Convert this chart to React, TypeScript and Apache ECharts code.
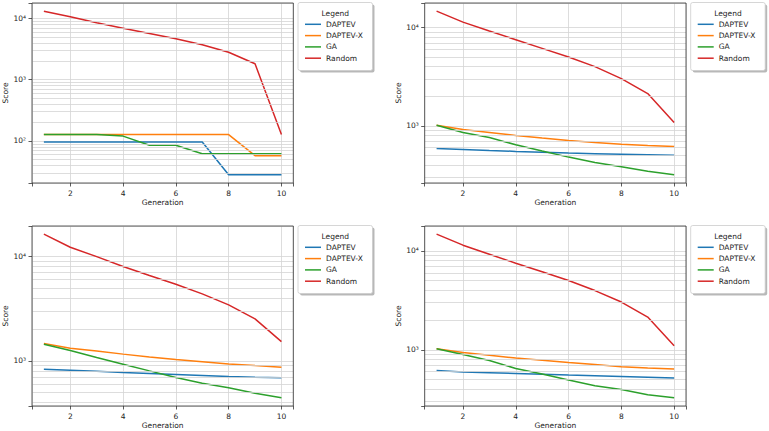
import React, { useEffect, useRef } from 'react';
import * as echarts from 'echarts';

const GENERATIONS = [1, 2, 3, 4, 5, 6, 7, 8, 9, 10];
const SERIES_NAMES = ['DAPTEV', 'DAPTEV-X', 'GA', 'Random'];
const COLORS = ['#1f77b4', '#ff7f0e', '#2ca02c', '#d62728'];
const X_TICKS = [2, 4, 6, 8, 10];
const MINOR_MULTIPLIERS = [2, 3, 4, 5, 6, 7, 8, 9];
const LEGEND_TITLE = 'Legend';
const X_NAME = 'Generation';
const Y_NAME = 'Score';

// Panel 1 (top-left)
const P1_DAPTEV = [96, 96, 96, 96, 96, 96, 96, 28, 28, 28];
const P1_DAPTEVX = [127, 127, 127, 127, 127, 127, 127, 127, 57.5, 57.5];
const P1_GA = [127, 127, 127, 120, 85, 85, 62, 62, 62, 62];
const P1_RANDOM = [13150, 10650, 8500, 6950, 5690, 4650, 3720, 2810, 1820, 127];

// Panel 2 (top-right)
const P2_DAPTEV = [588, 574, 560, 548, 537, 526, 518, 511, 505, 499];
const P2_DAPTEVX = [1010, 917, 855, 796, 750, 708, 675, 646, 630, 616];
const P2_GA = [1010, 855, 760, 640, 552, 479, 423, 382, 343, 316];
const P2_RANDOM = [14750, 11400, 9250, 7550, 6160, 5020, 4010, 3030, 2130, 1080];

// Panel 3 (bottom-left)
const P3_DAPTEV = [832, 813, 793, 773, 756, 739, 722, 706, 696, 687];
const P3_DAPTEVX = [1465, 1324, 1240, 1160, 1090, 1029, 980, 935, 900, 870];
const P3_GA = [1445, 1256, 1076, 929, 801, 692, 611, 551, 490, 442];
const P3_RANDOM = [16400, 12300, 10000, 8020, 6580, 5430, 4390, 3440, 2530, 1530];

// Panel 4 (bottom-right)
const P4_DAPTEV = [618, 595, 586, 577, 566, 555, 546, 538, 528, 518];
const P4_DAPTEVX = [1025, 940, 880, 825, 785, 745, 710, 673, 655, 638];
const P4_GA = [1025, 898, 780, 648, 568, 494, 433, 397, 351, 327];
const P4_RANDOM = [14750, 11420, 9250, 7510, 6140, 5010, 3970, 3040, 2140, 1100];

const PANEL_DATA = [
  [P1_DAPTEV, P1_DAPTEVX, P1_GA, P1_RANDOM],
  [P2_DAPTEV, P2_DAPTEVX, P2_GA, P2_RANDOM],
  [P3_DAPTEV, P3_DAPTEVX, P3_GA, P3_RANDOM],
  [P4_DAPTEV, P4_DAPTEVX, P4_GA, P4_RANDOM],
];

const LAYOUT = [
  { left: 32, top: 3 },
  { left: 424.7, top: 3 },
  { left: 32, top: 226 },
  { left: 424.7, top: 226 },
];
const PLOT_W = 261.3;
const PLOT_H = 180;
const FONT = 'DejaVu Sans';
const FS = 7.5;
const TEXT_COLOR = '#222';
const GRID_COLOR = '#d4d4d4';

const SUP: Record<string, string> = {
  '0': '⁰', '1': '¹', '2': '²', '3': '³', '4': '⁴', '5': '⁵', '6': '⁶', '7': '⁷', '8': '⁸', '9': '⁹', '-': '⁻',
};
const sup = (n: number) => String(n).split('').map((c) => SUP[c] || c).join('');

function buildOption() {
  const grids: any[] = [];
  const xAxes: any[] = [];
  const yAxes: any[] = [];
  const series: any[] = [];
  const legends: any[] = [];
  const graphics: any[] = [];

  const xMin = Math.min(...GENERATIONS);
  const xMax = Math.max(...GENERATIONS);
  const xPad = 0.05 * (xMax - xMin);

  PANEL_DATA.forEach((panel, i) => {
    const { left, top } = LAYOUT[i];
    grids.push({ left, top, width: PLOT_W, height: PLOT_H, containLabel: false });

    const all = panel.flat();
    const lo = Math.log10(Math.min(...all));
    const hi = Math.log10(Math.max(...all));
    const pad = 0.05 * (hi - lo);
    const yMin = Math.pow(10, lo - pad);
    const yMax = Math.pow(10, hi + pad);

    xAxes.push({
      type: 'value',
      gridIndex: i,
      min: xMin - xPad,
      max: xMax + xPad,
      name: X_NAME,
      nameLocation: 'middle',
      nameGap: 15,
      nameTextStyle: { fontFamily: FONT, fontSize: FS, color: TEXT_COLOR },
      axisLine: { show: false },
      axisTick: { show: true, length: 3.5, lineStyle: { color: '#333', width: 0.8 } },
      axisLabel: {
        fontFamily: FONT,
        fontSize: FS,
        color: TEXT_COLOR,
        margin: 6,
        formatter: (v: number) => (X_TICKS.includes(v) ? String(v) : ''),
      },
      splitLine: { show: true, lineStyle: { color: GRID_COLOR, width: 0.8 } },
    });

    yAxes.push({
      type: 'log',
      logBase: 10,
      gridIndex: i,
      min: yMin,
      max: yMax,
      name: Y_NAME,
      nameLocation: 'middle',
      nameGap: 21,
      nameRotate: 90,
      nameTextStyle: { fontFamily: FONT, fontSize: FS, color: TEXT_COLOR },
      axisLine: { show: false },
      axisTick: { show: true, length: 3.5, lineStyle: { color: '#333', width: 0.8 } },
      axisLabel: {
        fontFamily: FONT,
        fontSize: FS,
        color: TEXT_COLOR,
        margin: 6,
        formatter: (v: number) => {
          const e = Math.log10(v);
          const r = Math.round(e);
          return Math.abs(e - r) < 1e-6 ? '10' + sup(r) : '';
        },
      },
      splitLine: { show: true, lineStyle: { color: GRID_COLOR, width: 0.8 } },
    });

    // minor grid lines at 2..9 x 10^k
    const minor: number[] = [];
    for (let k = Math.floor(lo - pad); k <= Math.ceil(hi + pad); k++) {
      MINOR_MULTIPLIERS.forEach((m) => {
        const v = m * Math.pow(10, k);
        if (v > yMin && v < yMax) minor.push(v);
      });
    }
    series.push({
      type: 'line',
      name: 'minor-grid-' + i,
      xAxisIndex: i,
      yAxisIndex: i,
      data: [],
      z: 1,
      silent: true,
      markLine: {
        silent: true,
        symbol: ['none', 'none'],
        label: { show: false },
        lineStyle: { color: GRID_COLOR, width: 0.8, type: 'solid' },
        emphasis: { disabled: true },
        data: minor.map((v) => ({ yAxis: v })),
      },
    });

    panel.forEach((vals, s) => {
      series.push({
        type: 'line',
        name: SERIES_NAMES[s],
        xAxisIndex: i,
        yAxisIndex: i,
        data: GENERATIONS.map((g, j) => [g, vals[j]]),
        symbol: 'none',
        showSymbol: false,
        z: 3,
        color: COLORS[s],
        lineStyle: { color: COLORS[s], width: 1.5 },
      });
    });

    // frame
    graphics.push({
      type: 'rect',
      z: 20,
      silent: true,
      shape: { x: left, y: top, width: PLOT_W, height: PLOT_H },
      style: { fill: 'none', stroke: '#333', lineWidth: 0.8 },
    });

    // legend box
    const bx = left + 266;
    const by = top - 0.5;
    const bw = 74.5;
    const bh = 68;
    graphics.push({
      type: 'rect',
      z: 5,
      silent: true,
      shape: { x: bx + 2, y: by + 2, width: bw, height: bh, r: 2 },
      style: { fill: 'rgba(0,0,0,0.28)' },
    });
    graphics.push({
      type: 'rect',
      z: 6,
      silent: true,
      shape: { x: bx, y: by, width: bw, height: bh, r: 2 },
      style: { fill: '#ffffff', stroke: '#cccccc', lineWidth: 0.8 },
    });
    graphics.push({
      type: 'text',
      z: 7,
      silent: true,
      x: bx + bw / 2,
      y: by + 11,
      style: {
        text: LEGEND_TITLE,
        fontFamily: FONT,
        fontSize: FS,
        fill: TEXT_COLOR,
        textAlign: 'center',
        textVerticalAlign: 'middle',
      },
    });
    legends.push({
      show: true,
      orient: 'vertical',
      left: bx + 7,
      top: by + 17.8,
      padding: 0,
      icon: 'rect',
      itemWidth: 16,
      itemHeight: 1.5,
      itemGap: 3.3,
      z: 10,
      selectedMode: false,
      data: SERIES_NAMES,
      textStyle: { fontFamily: FONT, fontSize: FS, lineHeight: 8, color: TEXT_COLOR },
    });
  });

  return {
    animation: false,
    backgroundColor: '#ffffff',
    textStyle: { fontFamily: FONT },
    grid: grids,
    xAxis: xAxes,
    yAxis: yAxes,
    legend: legends,
    series,
    graphic: { elements: graphics },
  };
}

export default function App() {
  const ref = useRef<HTMLDivElement>(null);
  useEffect(() => {
    if (!ref.current) return;
    const chart = echarts.init(ref.current, null, { renderer: 'svg' });
    chart.setOption(buildOption() as any);
    return () => chart.dispose();
  }, []);
  return (
    <div
      ref={ref}
      style={{ position: 'absolute', left: 0, top: 0, width: 769, height: 431 }}
    />
  );
}
